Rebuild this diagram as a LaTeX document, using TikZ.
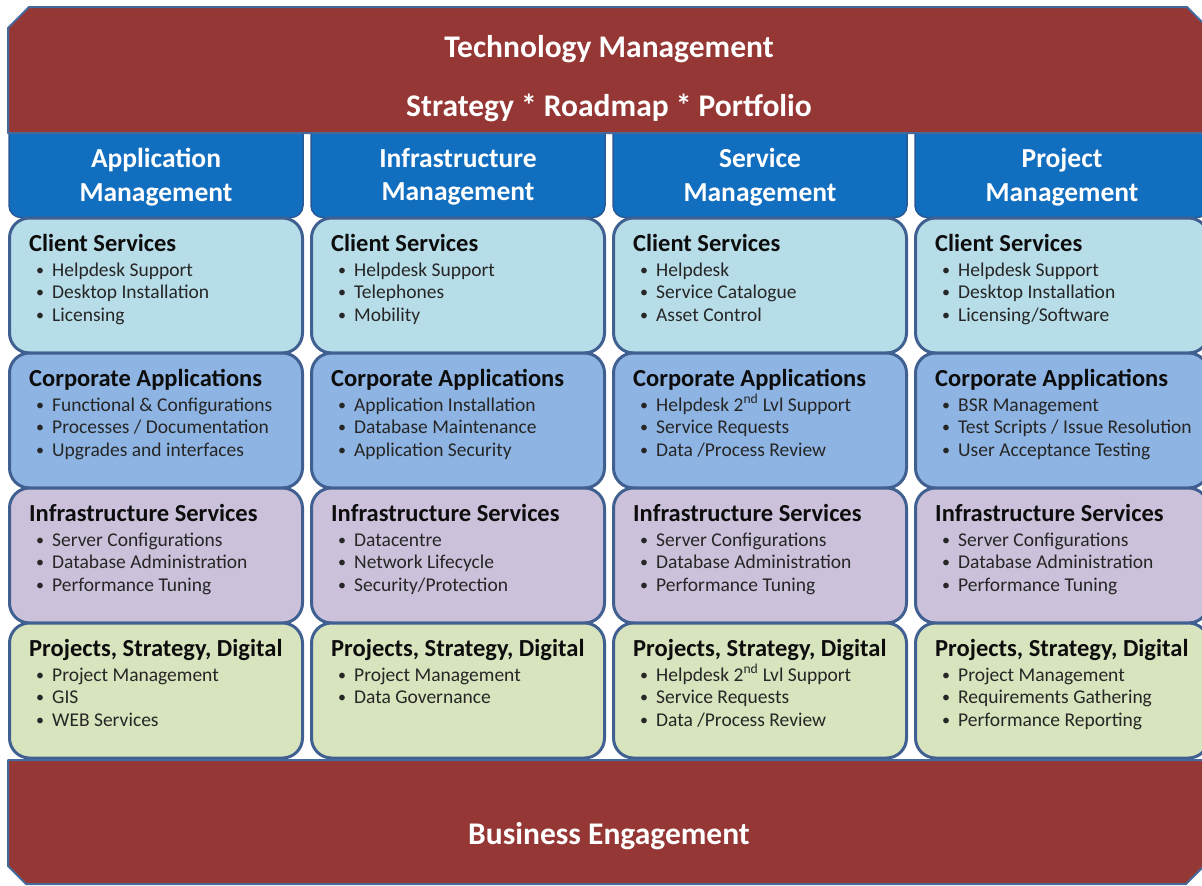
\documentclass[tikz,border=0pt]{standalone}
\usepackage{fontspec}
\setmainfont{Carlito}
\definecolor{bannerred}{RGB}{149,55,53}
\definecolor{bannerline}{RGB}{70,105,155}
\definecolor{hdrblue}{RGB}{18,111,192}
\definecolor{hdrline}{RGB}{40,88,150}
\definecolor{cellborder}{RGB}{64,96,145}
\definecolor{rowclient}{RGB}{183,221,232}
\definecolor{rowcorp}{RGB}{142,180,227}
\definecolor{rowinfra}{RGB}{204,193,218}
\definecolor{rowproj}{RGB}{215,228,189}
\definecolor{itemgray}{RGB}{38,38,38}

% bullet mark used in front of every item
\newcommand\itemdot{\makebox[17pt][l]{\hspace{1pt}\raisebox{0.6pt}{\fontsize{16}{16}\selectfont •}}}

% one service cell: name, left x, top y, fill, heading, bullet items
\newcommand\svccell[6]{%
  \node[cell, fill=#4] (#1) at ({#2+148},{#3+67.5}) {};
  \node[celltitle] (#1-title) at ({#2+21},{#3+33}) {#5};
  \foreach \t [count=\i] in {#6} {
    \node[cellitem] (#1-\i) at ({#2+27},{#3+35.5+22.5*\i}) {\itemdot\t};
  }%
}

\begin{document}
\begin{tikzpicture}[x=1pt,y=-1pt,
  banner/.style={fill=bannerred, draw=bannerline, line width=2pt, line join=round},
  bannertext/.style={text=white, font=\fontsize{31.5}{38}\selectfont\bfseries, anchor=base, inner sep=0pt},
  hdr/.style={fill=hdrblue, draw=hdrline, line width=1.5pt, rounded corners=12pt,
    minimum width=294pt, minimum height=100pt, inner sep=0pt},
  hdrtext/.style={text=white, font=\fontsize{27.5}{33.5}\selectfont\bfseries, align=center, inner sep=0pt},
  cell/.style={draw=cellborder, line width=3pt, rounded corners=20pt,
    minimum width=293pt, minimum height=135pt, inner sep=0pt},
  celltitle/.style={anchor=base west, inner sep=0pt, text=black!95,
    font=\fontsize{24.5}{29}\selectfont\bfseries},
  cellitem/.style={anchor=base west, inner sep=0pt, text=itemgray,
    font=\fontsize{19.5}{22.5}\selectfont},
]
\useasboundingbox (0,0) rectangle (1202,886);
\clip (0,0) rectangle (1202,886);
\fill[white] (0,0) rectangle (1202,886);

% column headers
\node[hdr] (h1) at (156,167.5) {};
\node[hdr] (h2) at (458,167.5) {};
\node[hdr] (h3) at (760,167.5) {};
\node[hdr] (h4) at (1062,167.5) {};
\node[hdrtext] (h1-text) at (156,177) {Application\\Management};
\node[hdrtext] (h2-text) at (458,177) {Infrastructure\\Management};
\node[hdrtext] (h3-text) at (760,177) {Service\\Management};
\node[hdrtext] (h4-text) at (1062,177) {Project\\Management};

% column 1
\svccell{a1}{8}{218}{rowclient}{Client Services}{Helpdesk Support,Desktop Installation,Licensing}
\svccell{a2}{8}{353}{rowcorp}{Corporate Applications}{Functional \& Configurations,Processes / Documentation,Upgrades and interfaces}
\svccell{a3}{8}{488}{rowinfra}{Infrastructure Services}{Server Configurations,Database Administration,Performance Tuning}
\svccell{a4}{8}{623}{rowproj}{Projects, Strategy, Digital}{Project Management,GIS,WEB Services}

% column 2
\svccell{b1}{310}{218}{rowclient}{Client Services}{Helpdesk Support,Telephones,Mobility}
\svccell{b2}{310}{353}{rowcorp}{Corporate Applications}{Application Installation,Database Maintenance,Application Security}
\svccell{b3}{310}{488}{rowinfra}{Infrastructure Services}{Datacentre,Network Lifecycle,Security/Protection}
\svccell{b4}{310}{623}{rowproj}{Projects, Strategy, Digital}{Project Management,Data Governance}

% column 3
\svccell{c1}{612}{218}{rowclient}{Client Services}{Helpdesk,Service Catalogue,Asset Control}
\svccell{c2}{612}{353}{rowcorp}{Corporate Applications}{Helpdesk 2\textsuperscript{nd} Lvl Support,Service Requests,Data /Process Review}
\svccell{c3}{612}{488}{rowinfra}{Infrastructure Services}{Server Configurations,Database Administration,Performance Tuning}
\svccell{c4}{612}{623}{rowproj}{Projects, Strategy, Digital}{Helpdesk 2\textsuperscript{nd} Lvl Support,Service Requests,Data /Process Review}

% column 4
\svccell{d1}{914}{218}{rowclient}{Client Services}{Helpdesk Support,Desktop Installation,Licensing/Software}
\svccell{d2}{914}{353}{rowcorp}{Corporate Applications}{BSR Management,Test Scripts / Issue Resolution,User Acceptance Testing}
\svccell{d3}{914}{488}{rowinfra}{Infrastructure Services}{Server Configurations,Database Administration,Performance Tuning}
\svccell{d4}{914}{623}{rowproj}{Projects, Strategy, Digital}{Project Management,Requirements Gathering,Performance Reporting}

% top and bottom banners
\draw[banner] (8,28) -- (29,7) -- (1187,7) -- (1208,28) -- (1208,133) -- (8,133) -- cycle;
\node[bannertext] (top-1) at (609,57) {Technology Management};
\node[bannertext] (top-2) at (609,116) {Strategy * Roadmap * Portfolio};

\draw[banner] (8,760) -- (1208,760) -- (1208,862) -- (1186,884) -- (26,884) -- (8,866) -- cycle;
\node[bannertext] (bottom) at (609,844) {Business Engagement};
\end{tikzpicture}
\end{document}
